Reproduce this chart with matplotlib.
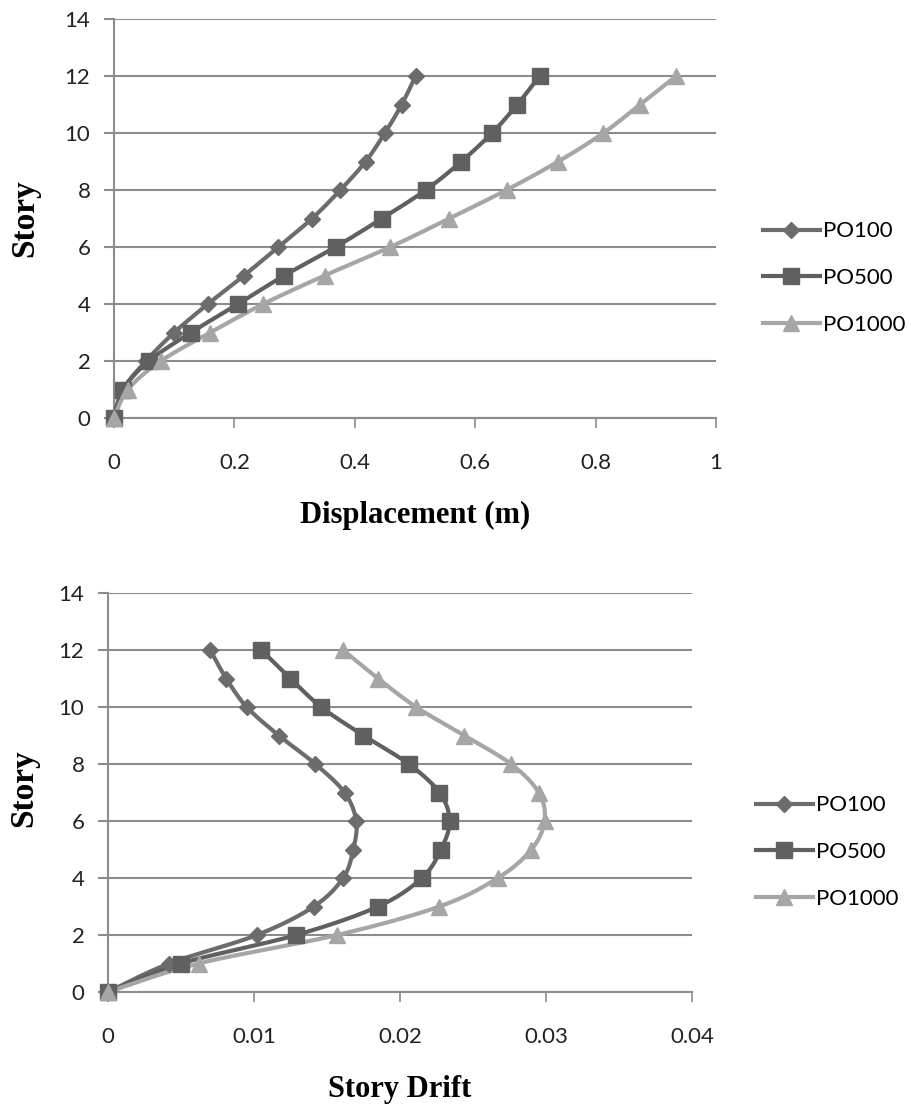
import numpy as np
import matplotlib
matplotlib.use("Agg")
import matplotlib.pyplot as plt
from matplotlib.lines import Line2D

# story levels (shared by both charts)
stories = [0, 1, 2, 3, 4, 5, 6, 7, 8, 9, 10, 11, 12]
series_names = ["PO100", "PO500", "PO1000"]

# top chart: displacement (m)
disp_po100 = [0, 0.015, 0.053, 0.100, 0.156, 0.216, 0.273, 0.329, 0.376, 0.418, 0.450, 0.478, 0.501]
disp_po500 = [0, 0.015, 0.058, 0.128, 0.206, 0.283, 0.368, 0.445, 0.518, 0.577, 0.628, 0.670, 0.707]
disp_po1000 = [0, 0.023, 0.078, 0.160, 0.248, 0.350, 0.459, 0.557, 0.652, 0.738, 0.813, 0.874, 0.934]

# bottom chart: story drift
drift_po100 = [0, 0.0042, 0.0102, 0.0141, 0.0161, 0.0168, 0.0170, 0.0162, 0.0142, 0.0117, 0.0095, 0.0081, 0.0070]
drift_po500 = [0, 0.0050, 0.0129, 0.0185, 0.0215, 0.0228, 0.0234, 0.0227, 0.0206, 0.0175, 0.0146, 0.0125, 0.0105]
drift_po1000 = [0, 0.0062, 0.0157, 0.0227, 0.0267, 0.0290, 0.0299, 0.0295, 0.0276, 0.0244, 0.0211, 0.0185, 0.0161]

colors = ["#6c6c6c", "#606060", "#a6a6a6"]
markers = ["D", "s", "^"]
msizes = [8, 11, 11]

tick_font = "Lato"
label_font = "Liberation Serif"
grid_col = "#8c8c8c"


def smooth(xs, ys, sx, sy, n=24):
    # Excel-like smoothed line: Catmull-Rom bezier in screen-ish units
    p = np.column_stack([np.asarray(xs) * sx, np.asarray(ys) * sy])
    out = [p[0]]
    for i in range(len(p) - 1):
        p0 = p[i - 1] if i > 0 else p[i]
        p1, p2 = p[i], p[i + 1]
        p3 = p[i + 2] if i + 2 < len(p) else p[i + 1]
        c1 = p1 + (p2 - p0) / 6
        c2 = p2 - (p3 - p1) / 6
        t = np.linspace(0, 1, n)[1:, None]
        seg = ((1 - t) ** 3) * p1 + 3 * ((1 - t) ** 2) * t * c1 + 3 * (1 - t) * t ** 2 * c2 + t ** 3 * p2
        out.extend(seg)
    out = np.array(out)
    return out[:, 0] / sx, out[:, 1] / sy


def draw(ax, data, xmax, xticks, xticklabels, xlabel):
    ax.set_xlim(0, xmax)
    ax.set_ylim(0, 14)
    w = ax.get_position().width * 912
    h = ax.get_position().height * 1108
    for vals, c, m, ms in zip(data, colors, markers, msizes):
        lx, ly = smooth(vals, stories, w / xmax, h / 14)
        ax.plot(lx, ly, color=c, lw=3.0, zorder=3, clip_on=False, solid_capstyle="round")
        ax.plot(vals, stories, linestyle="none", marker=m, color=c, ms=ms,
                mec=c, zorder=4, clip_on=False)
    ax.set_yticks(range(0, 15, 2))
    ax.set_xticks(xticks)
    ax.set_xticklabels(xticklabels)
    ax.yaxis.grid(True, color=grid_col, lw=1.5)
    ax.set_axisbelow(True)
    for s in ["top", "right"]:
        ax.spines[s].set_visible(False)
    ax.spines["left"].set_color(grid_col)
    ax.spines["left"].set_linewidth(1.5)
    ax.spines["bottom"].set_color(grid_col)
    ax.spines["bottom"].set_linewidth(1.5)
    ax.tick_params(axis="y", length=7, width=1.5, color=grid_col, pad=10,
                   labelsize=16, labelcolor="#222222")
    ax.tick_params(axis="x", length=7, width=1.2, color=grid_col, pad=18,
                   labelsize=16, labelcolor="#222222")
    for lab in ax.get_xticklabels() + ax.get_yticklabels():
        lab.set_family(tick_font)
    ax.set_xlabel(xlabel, family=label_font, fontweight="bold", fontsize=22)
    ax.xaxis.set_label_coords(0.5, -0.245)
    ax.xaxis.label.set_va("center")
    ax.set_ylabel("Story", family=label_font, fontweight="bold", fontsize=24)


fig = plt.figure(figsize=(9.12, 11.08), dpi=100)
ax1 = fig.add_axes([114 / 912, 1 - 418 / 1108, 602 / 912, 399 / 1108])
ax2 = fig.add_axes([108 / 912, 1 - 992 / 1108, 584 / 912, 399 / 1108])

draw(ax1, [disp_po100, disp_po500, disp_po1000], 1.0,
     [0, 0.2, 0.4, 0.6, 0.8, 1.0], ["0", "0.2", "0.4", "0.6", "0.8", "1"],
     "Displacement (m)")
ax1.yaxis.set_label_coords(-89 / 602, 0.5)
ax1.yaxis.label.set_va("center")

draw(ax2, [drift_po100, drift_po500, drift_po1000], 0.04,
     [0, 0.01, 0.02, 0.03, 0.04], ["0", "0.01", "0.02", "0.03", "0.04"],
     "Story Drift")
ax2.yaxis.set_label_coords(-84 / 584, 0.51)
ax2.yaxis.label.set_va("center")

handles = [Line2D([], [], color=c, lw=3.0, marker=m, ms=ms, mec=c)
           for c, m, ms in zip(colors, markers, msizes)]
for x0, yc in [(763, 278), (756, 852)]:
    fig.legend(handles, series_names, loc="center left",
               bbox_to_anchor=(x0 / 912, 1 - yc / 1108), frameon=False,
               borderpad=0, borderaxespad=0, handlelength=2.55, handletextpad=0.15,
               labelspacing=1.2, prop={"family": tick_font, "size": 16})

fig.savefig("out.png", dpi=100, facecolor="white")
